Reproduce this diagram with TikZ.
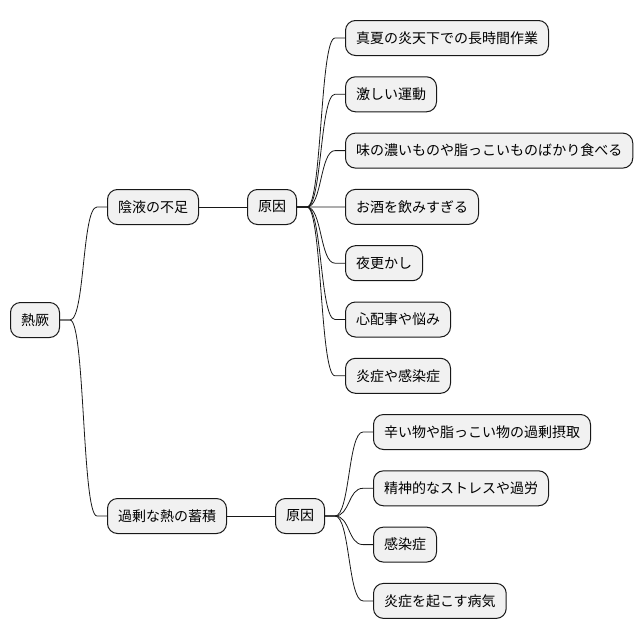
\documentclass[tikz,border=0pt]{standalone}
\usepackage{fontspec}
\newfontfamily\jpfont{Noto Sans CJK JP}
\usepackage{tikz}
\usepackage{xcolor}
\usetikzlibrary{positioning, calc}

\definecolor{boxfill}{HTML}{F1F1F1}
\definecolor{boxline}{HTML}{181818}

\tikzset{
  topic/.style={draw=boxline, fill=boxfill, line width=1pt, rounded corners=10pt,
    anchor=west, minimum height=35pt, inner xsep=10.5pt, inner ysep=0pt,
    font=\jpfont\fontsize{14}{16}\selectfont, text=black},
  link/.style={draw=boxline, line width=0.8pt}
}

% stub, curve, stub from parent to child
\newcommand{\branch}[2]{%
  \draw[link] (#1.east) -- ++(10,0)
    .. controls ($(#1.east)+(25,0)$) and ($(#2.west)+(-25,0)$) ..
    ($(#2.west)+(-10,0)$) -- (#2.west);}

\begin{document}
\begin{tikzpicture}[x=1pt, y=-1pt]
\useasboundingbox (0,0) rectangle (642,640);

% Root
\node[topic] (jueyin) at (10,320) {熱厥};

% Upper branch
\node[topic] (yin) at (107,207) {陰液の不足};
\node[topic] (yincause) at (247,207) {原因};
\branch{jueyin}{yin}
\draw[link] (yin) -- (yincause);
\foreach \txt [count=\i] in {真夏の炎天下での長時間作業, 激しい運動,
    味の濃いものや脂っこいものばかり食べる, お酒を飲みすぎる, 夜更かし,
    心配事や悩み, 炎症や感染症} {
  \node[topic] (yc\i) at (345,{38+56.3*(\i-1)}) {\txt};
  \branch{yincause}{yc\i}
}

% Lower branch
\node[topic] (heat) at (107,516) {過剰な熱の蓄積};
\node[topic] (heatcause) at (275,516) {原因};
\branch{jueyin}{heat}
\draw[link] (heat) -- (heatcause);
\foreach \txt [count=\i] in {辛い物や脂っこい物の過剰摂取, 精神的なストレスや過労,
    感染症, 炎症を起こす病気} {
  \node[topic] (hc\i) at (373,{432+56.3*(\i-1)}) {\txt};
  \branch{heatcause}{hc\i}
}
\end{tikzpicture}
\end{document}
